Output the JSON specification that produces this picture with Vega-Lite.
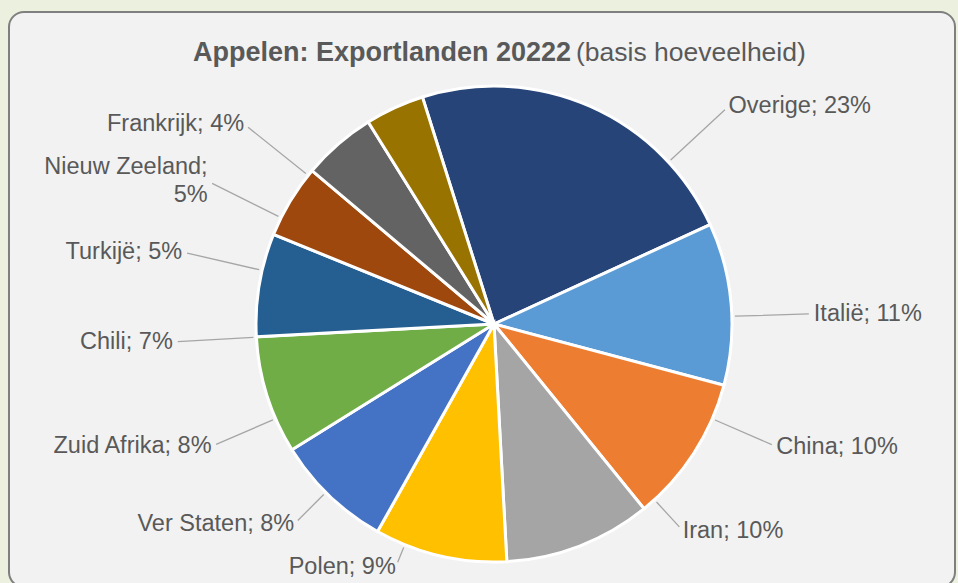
{
  "$schema": "https://vega.github.io/schema/vega-lite/v6.json",
  "width": 958,
  "height": 583,
  "autosize": {"type": "fit", "contains": "padding"},
  "padding": {"left": 9, "top": 12, "right": 3, "bottom": -4},
  "background": "#ebf1de",
  "view": {"fill": "#f2f2f2", "stroke": "#7f7f7f", "strokeWidth": 2, "cornerRadius": 15},
  "title": {
    "text": "Appelen: Exportlanden 20222",
    "subtitle": "(basis hoeveelheid)",
    "anchor": "start",
    "frame": "group",
    "offset": -55,
    "font": "Liberation Sans",
    "subtitleFont": "Liberation Sans",
    "fontSize": 27,
    "subtitleFontSize": 26.5,
    "fontWeight": "bold",
    "subtitleFontWeight": "normal",
    "color": "#595959",
    "subtitleColor": "#595959",
    "lineHeight": 27,
    "subtitleLineHeight": 27,
    "subtitlePadding": -27
  },
  "data": {
    "values": [
      {"i": 1, "name": "Overige", "v": 23, "label": "Overige; 23%"},
      {"i": 2, "name": "Italië", "v": 11, "label": "Italië; 11%"},
      {"i": 3, "name": "China", "v": 10, "label": "China; 10%"},
      {"i": 4, "name": "Iran", "v": 10, "label": "Iran; 10%"},
      {"i": 5, "name": "Polen", "v": 9, "label": "Polen; 9%"},
      {"i": 6, "name": "Ver Staten", "v": 8, "label": "Ver Staten; 8%"},
      {"i": 7, "name": "Zuid Afrika", "v": 8, "label": "Zuid Afrika; 8%"},
      {"i": 8, "name": "Chili", "v": 7, "label": "Chili; 7%"},
      {"i": 9, "name": "Turkijë", "v": 5, "label": "Turkijë; 5%"},
      {"i": 10, "name": "Nieuw Zeeland", "v": 5, "label": "Nieuw Zeeland;\n5%"},
      {"i": 11, "name": "Frankrijk", "v": 4, "label": "Frankrijk; 4%"}
    ]
  },
  "transform": [
    {"stack": "v", "groupby": [], "sort": [{"field": "i", "order": "ascending"}], "as": ["v0", "v1"]}
  ],
  "layer": [
    {
      "mark": {"type": "arc", "radius": 238, "stroke": "#ffffff", "strokeWidth": 3, "xOffset": 12, "yOffset": 24.5},
      "encoding": {
        "theta": {"field": "v0", "type": "quantitative", "scale": {"domain": [0, 100], "range": [-0.3054, 5.9778]}},
        "theta2": {"field": "v1"},
        "color": {
          "field": "name",
          "type": "nominal",
          "scale": {
            "domain": ["Overige", "Italië", "China", "Iran", "Polen", "Ver Staten", "Zuid Afrika", "Chili", "Turkijë", "Nieuw Zeeland", "Frankrijk"],
            "range": ["#264478", "#5b9bd5", "#ed7d31", "#a5a5a5", "#ffc000", "#4472c4", "#70ad47", "#255e91", "#9e480e", "#636363", "#997300"]
          },
          "legend": null
        }
      }
    },
    {
      "mark": {
        "type": "arc",
        "fill": "transparent",
        "stroke": "#a6a6a6",
        "strokeWidth": 1.3,
        "xOffset": 12,
        "yOffset": 24.5,
        "radius2": 241,
        "radius": {"expr": "(cos(((-0.3054+PI*(datum.v0+datum.v1)/100)<PI?PI/2+0.67*((-0.3054+PI*(datum.v0+datum.v1)/100)-PI/2)+0.025:3*PI/2+0.75*((-0.3054+PI*(datum.v0+datum.v1)/100)-3*PI/2)-0.18))>=0?320:82110/sqrt(pow(255*sin(((-0.3054+PI*(datum.v0+datum.v1)/100)<PI?PI/2+0.67*((-0.3054+PI*(datum.v0+datum.v1)/100)-PI/2)+0.025:3*PI/2+0.75*((-0.3054+PI*(datum.v0+datum.v1)/100)-3*PI/2)-0.18)),2)+pow(322*cos(((-0.3054+PI*(datum.v0+datum.v1)/100)<PI?PI/2+0.67*((-0.3054+PI*(datum.v0+datum.v1)/100)-PI/2)+0.025:3*PI/2+0.75*((-0.3054+PI*(datum.v0+datum.v1)/100)-3*PI/2)-0.18)),2)))-5"},
        "theta": {"expr": "((-0.3054+PI*(datum.v0+datum.v1)/100)<PI?PI/2+0.67*((-0.3054+PI*(datum.v0+datum.v1)/100)-PI/2)+0.025:3*PI/2+0.75*((-0.3054+PI*(datum.v0+datum.v1)/100)-3*PI/2)-0.18)"},
        "theta2": {"expr": "((-0.3054+PI*(datum.v0+datum.v1)/100)<PI?PI/2+0.67*((-0.3054+PI*(datum.v0+datum.v1)/100)-PI/2)+0.025:3*PI/2+0.75*((-0.3054+PI*(datum.v0+datum.v1)/100)-3*PI/2)-0.18)"}
      },
      "encoding": {}
    },
    {
      "mark": {
        "type": "text",
        "font": "Liberation Sans",
        "fontSize": 23.5,
        "color": "#595959",
        "lineBreak": "\n",
        "lineHeight": 28,
        "baseline": "middle",
        "xOffset": 12,
        "yOffset": 24.5,
        "dy": {"expr": "indexof(datum.label,'\\n')>=0?-14:0"},
        "align": {"expr": "(-0.3054+PI*(datum.v0+datum.v1)/100)<PI?'left':'right'"},
        "theta": {"expr": "((-0.3054+PI*(datum.v0+datum.v1)/100)<PI?PI/2+0.67*((-0.3054+PI*(datum.v0+datum.v1)/100)-PI/2)+0.025:3*PI/2+0.75*((-0.3054+PI*(datum.v0+datum.v1)/100)-3*PI/2)-0.18)"},
        "radius": {"expr": "cos(((-0.3054+PI*(datum.v0+datum.v1)/100)<PI?PI/2+0.67*((-0.3054+PI*(datum.v0+datum.v1)/100)-PI/2)+0.025:3*PI/2+0.75*((-0.3054+PI*(datum.v0+datum.v1)/100)-3*PI/2)-0.18))>=0?320:82110/sqrt(pow(255*sin(((-0.3054+PI*(datum.v0+datum.v1)/100)<PI?PI/2+0.67*((-0.3054+PI*(datum.v0+datum.v1)/100)-PI/2)+0.025:3*PI/2+0.75*((-0.3054+PI*(datum.v0+datum.v1)/100)-3*PI/2)-0.18)),2)+pow(322*cos(((-0.3054+PI*(datum.v0+datum.v1)/100)<PI?PI/2+0.67*((-0.3054+PI*(datum.v0+datum.v1)/100)-PI/2)+0.025:3*PI/2+0.75*((-0.3054+PI*(datum.v0+datum.v1)/100)-3*PI/2)-0.18)),2))"}
      },
      "encoding": {"text": {"field": "label", "type": "nominal"}}
    }
  ],
  "config": {
    "style": {
      "group-title": {"dx": 184},
      "group-subtitle": {"dx": 567}
    }
  }
}
